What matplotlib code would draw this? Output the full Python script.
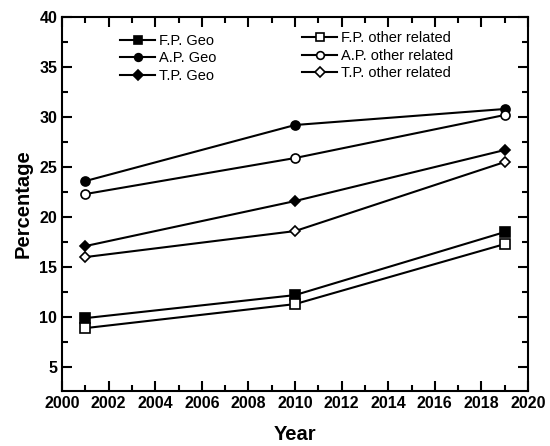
import matplotlib
matplotlib.use("Agg")
import matplotlib.pyplot as plt
from matplotlib.ticker import MultipleLocator

plt.rcParams['font.family'] = ['Liberation Sans', 'DejaVu Sans']

years = [2001, 2010, 2019]
fp_geo = [9.9, 12.2, 18.5]
ap_geo = [23.6, 29.2, 30.8]
tp_geo = [17.1, 21.6, 26.7]
fp_other = [8.9, 11.3, 17.3]
ap_other = [22.3, 25.9, 30.2]
tp_other = [16.0, 18.6, 25.5]

fig = plt.figure(figsize=(5.5, 4.46), dpi=100)
ax = fig.add_axes([0.113, 0.123, 0.847, 0.839])

kw = dict(color='black', lw=1.5, markersize=6.5, markeredgewidth=1.2)
h1, = ax.plot(years, fp_geo, marker='s', label='F.P. Geo', **kw)
h2, = ax.plot(years, ap_geo, marker='o', label='A.P. Geo', **kw)
h3, = ax.plot(years, tp_geo, marker='D', label='T.P. Geo', **dict(kw, markersize=5.5))
h4, = ax.plot(years, fp_other, marker='s', mfc='white', label='F.P. other related', **kw)
h5, = ax.plot(years, ap_other, marker='o', mfc='white', label='A.P. other related', **kw)
h6, = ax.plot(years, tp_other, marker='D', mfc='white', label='T.P. other related', **dict(kw, markersize=5.5))

ax.set_xlim(2000, 2020)
ax.set_ylim(2.6, 40)
ax.xaxis.set_major_locator(MultipleLocator(2))
ax.xaxis.set_minor_locator(MultipleLocator(1))
ax.yaxis.set_major_locator(MultipleLocator(5))
ax.yaxis.set_minor_locator(MultipleLocator(2.5))
ax.tick_params(which='both', direction='in', top=True, right=True, width=1.5)
ax.tick_params(which='major', length=7, labelsize=11.5)
ax.tick_params(which='minor', length=4)
for lab in ax.get_xticklabels() + ax.get_yticklabels():
    lab.set_fontweight('bold')
for s in ax.spines.values():
    s.set_linewidth(1.5)

ax.set_xlabel('Year', fontsize=14.5, fontweight='bold', labelpad=10)
ax.set_ylabel('Percentage', fontsize=14.5, fontweight='bold', labelpad=5)

legkw = dict(loc='upper left', frameon=False, fontsize=10.5, handlelength=2.4,
             handletextpad=0.25, labelspacing=0.25, borderpad=0, borderaxespad=0,
             markerscale=0.85)
leg1 = ax.legend(handles=[h1, h2, h3], bbox_to_anchor=(0.125, 0.955), **legkw)
ax.add_artist(leg1)
ax.legend(handles=[h4, h5, h6], bbox_to_anchor=(0.515, 0.962), **legkw)

fig.savefig('out.png', dpi=100)
